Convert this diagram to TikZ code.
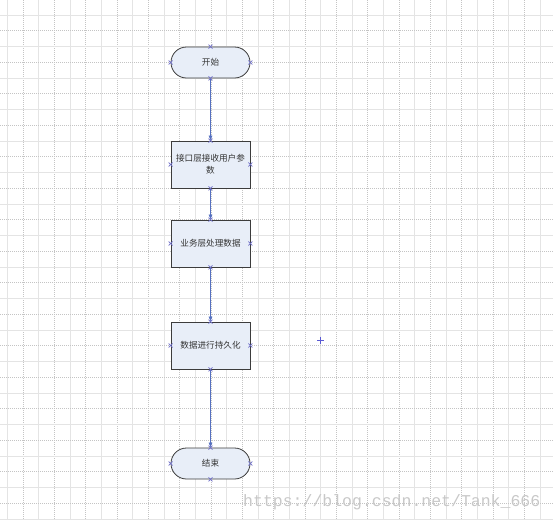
\documentclass[tikz,border=0pt]{standalone}
\usepackage{fontspec}
\newfontfamily\cjk{Noto Sans CJK SC}
\setmonofont{Liberation Mono}
\usetikzlibrary{arrows.meta,calc}
\definecolor{gridsolid}{HTML}{E4E4E4}
\definecolor{griddash}{HTML}{C4C4C4}
\definecolor{shapefill}{HTML}{E8EEF8}
\definecolor{shapeline}{HTML}{3C3C3C}
\definecolor{arrowblue}{HTML}{5570C0}
\definecolor{cpcol}{HTML}{7070C8}
\definecolor{txtcol}{HTML}{333333}
\definecolor{wmcol}{HTML}{C8C8C8}
\tikzset{
  stepbox/.style={draw=shapeline, fill=shapefill, line width=0.8pt, minimum width=79pt, minimum height=47pt, inner sep=2pt, text width=75pt, align=center, font=\cjk\fontsize{8.6}{12}\selectfont, text=txtcol},
  termbox/.style={stepbox, minimum height=31pt, rounded corners=15.5pt},
  arr/.style={draw=arrowblue, line width=0.6pt, -{Latex[length=5pt,width=4pt]}},
  cpx/.pic={\draw[cpcol, line width=0.6pt] (-2,-2)--(2,2) (-2,2)--(2,-2);}
}
\begin{document}
\begin{tikzpicture}[x=1pt,y=-1pt]
\useasboundingbox (0,0) rectangle (553,520);
\fill[white] (0,0) rectangle (553,520);
% grid
\foreach \k in {0,...,35} {
  \pgfmathsetmacro\xx{7.3+15.67*\k}
  \ifodd\k
    \draw[griddash, line width=0.6pt, dash pattern=on 1pt off 1pt] (\xx,0) -- (\xx,520);
  \else
    \draw[gridsolid, line width=0.6pt] (\xx,0) -- (\xx,520);
  \fi
}
\foreach \k in {0,...,32} {
  \pgfmathsetmacro\yy{15+15.75*\k}
  \ifodd\k
    \draw[griddash, line width=0.6pt, dash pattern=on 1pt off 1pt] (0,\yy) -- (553,\yy);
  \else
    \draw[gridsolid, line width=0.6pt] (0,\yy) -- (553,\yy);
  \fi
}
% shapes
\node[termbox] (s) at (210.5,62.5) {开始};
\node[stepbox] (b1) at (210.5,164.5) {接口层接收用户参\\数};
\node[stepbox] (b2) at (210.5,243.5) {业务层处理数据};
\node[stepbox] (b3) at (210.5,345.5) {数据进行持久化};
\node[termbox] (e) at (210.5,463.5) {结束};
% connectors
\draw[arr] (s.south) -- (b1.north);
\draw[arr] (b1.south) -- (b2.north);
\draw[arr] (b2.south) -- (b3.north);
\draw[arr] (b3.south) -- (e.north);
% connection points
\foreach \n in {s,b1,b2,b3,e} {
  \foreach \a in {north,south,east,west} {
    \pic at (\n.\a) {cpx};
  }
}
% stray point
\coordinate (p) at (320.5,340);
\draw[cpcol!80!blue, line width=0.8pt] ($(p)+(-3.5,0)$) -- ($(p)+(3.5,0)$) ($(p)+(0,-3.5)$) -- ($(p)+(0,3.5)$);
% watermark
\node[anchor=base west, inner sep=0pt, text=wmcol, font=\ttfamily\fontsize{16.5}{18}\selectfont] (wm) at (243,506) {https://blog.csdn.net/Tank\_666};
\end{tikzpicture}
\end{document}
